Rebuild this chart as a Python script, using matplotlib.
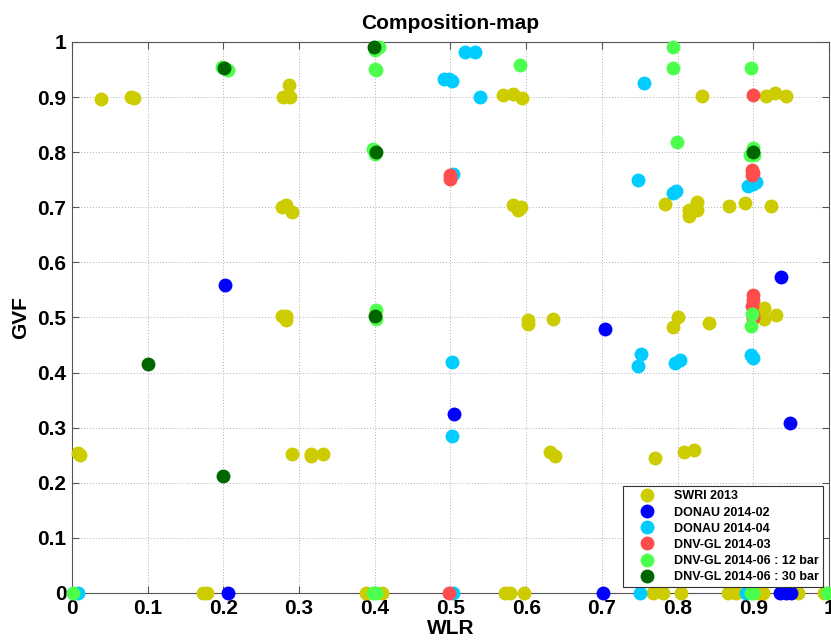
"""
Composition-map: GVF vs WLR test points from the different campaigns.
"""

import matplotlib
matplotlib.use('Agg')
import matplotlib.pyplot as plt

plt.rcParams['font.family'] = ['Liberation Sans', 'DejaVu Sans']
plt.rcParams['font.weight'] = 'bold'

# SWRI 2013
swri_wlr = [0.038, 0.078, 0.082, 0.279, 0.287, 0.288, 0.278, 0.283, 0.291,
            0.277, 0.283, 0.283, 0.008, 0.011, 0.290, 0.316, 0.316, 0.332,
            0.173, 0.178, 0.389, 0.409, 0.569, 0.582, 0.595, 0.583, 0.589,
            0.593, 0.603, 0.603, 0.636, 0.631, 0.638, 0.770, 0.809, 0.822,
            0.572, 0.578, 0.597, 0.832, 0.917, 0.929, 0.943, 0.783, 0.815,
            0.815, 0.826, 0.826, 0.868, 0.889, 0.924, 0.801, 0.794, 0.841,
            0.914, 0.914, 0.930, 0.767, 0.781, 0.805, 0.866, 0.877, 0.906,
            0.913, 0.959, 0.993]
swri_gvf = [0.897, 0.900, 0.899, 0.900, 0.922, 0.900, 0.701, 0.704, 0.692,
            0.502, 0.502, 0.496, 0.254, 0.251, 0.252, 0.252, 0.248, 0.253,
            0.0, 0.0, 0.0, 0.0, 0.903, 0.906, 0.898, 0.704, 0.695,
            0.700, 0.496, 0.489, 0.497, 0.255, 0.249, 0.245, 0.255, 0.260,
            0.0, 0.0, 0.0, 0.902, 0.902, 0.908, 0.902, 0.706, 0.695,
            0.685, 0.710, 0.695, 0.702, 0.708, 0.702, 0.500, 0.482, 0.490,
            0.517, 0.497, 0.504, 0.0, 0.0, 0.0, 0.0, 0.0, 0.0,
            0.0, 0.0, 0.0]

# DONAU 2014-02
donau02_wlr = [0.202, 0.206, 0.504, 0.704, 0.701, 0.936, 0.949, 0.935, 0.943, 0.950]
donau02_gvf = [0.559, 0.0, 0.325, 0.479, 0.0, 0.574, 0.308, 0.0, 0.0, 0.0]

# DONAU 2014-04
donau04_wlr = [0.519, 0.533, 0.492, 0.498, 0.502, 0.539, 0.755, 0.503, 0.748,
               0.794, 0.798, 0.893, 0.899, 0.904, 0.751, 0.748, 0.797, 0.803,
               0.897, 0.899, 0.502, 0.502, 0.008, 0.503, 0.750, 0.890]
donau04_gvf = [0.981, 0.981, 0.932, 0.932, 0.929, 0.901, 0.925, 0.760, 0.749,
               0.726, 0.730, 0.739, 0.742, 0.745, 0.434, 0.412, 0.417, 0.423,
               0.432, 0.426, 0.420, 0.285, 0.0, 0.0, 0.0, 0.0]

# DNV-GL 2014-03
dnv03_wlr = [0.499, 0.499, 0.899, 0.898, 0.898, 0.900, 0.899, 0.899, 0.898,
             0.900, 0.900, 0.498]
dnv03_gvf = [0.758, 0.752, 0.903, 0.768, 0.758, 0.762, 0.541, 0.532, 0.520,
             0.505, 0.499, 0.0]

# DNV-GL 2014-06 : 12 bar
dnv12_wlr = [0.198, 0.206, 0.405, 0.400, 0.400, 0.402, 0.398, 0.400, 0.401,
             0.401, 0.398, 0.401, 0.794, 0.794, 0.592, 0.897, 0.799, 0.895,
             0.901, 0.899, 0.898, 0.897, 0.897, 0.899, 0.998, 0.001]
dnv12_gvf = [0.955, 0.950, 0.990, 0.986, 0.951, 0.949, 0.805, 0.797, 0.514,
             0.497, 0.0, 0.0, 0.991, 0.953, 0.958, 0.953, 0.819, 0.795,
             0.795, 0.808, 0.506, 0.485, 0.0, 0.0, 0.0, 0.0]

# DNV-GL 2014-06 : 30 bar
dnv30_wlr = [0.2007, 0.399, 0.401, 0.400, 0.0999, 0.1997, 0.899]
dnv30_gvf = [0.952, 0.991, 0.801, 0.503, 0.415, 0.213, 0.801]

series = [
    (swri_wlr, swri_gvf, 'SWRI 2013', '#CCCC00'),
    (donau02_wlr, donau02_gvf, 'DONAU 2014-02', '#0000FF'),
    (donau04_wlr, donau04_gvf, 'DONAU 2014-04', '#00CCFF'),
    (dnv03_wlr, dnv03_gvf, 'DNV-GL 2014-03', '#FF4D4D'),
    (dnv12_wlr, dnv12_gvf, 'DNV-GL 2014-06 : 12 bar', '#4DFF4D'),
    (dnv30_wlr, dnv30_gvf, 'DNV-GL 2014-06 : 30 bar', '#006600'),
]

ticks = [0, 0.1, 0.2, 0.3, 0.4, 0.5, 0.6, 0.7, 0.8, 0.9, 1]
tick_labels = ['0', '0.1', '0.2', '0.3', '0.4', '0.5', '0.6', '0.7', '0.8', '0.9', '1']

fig = plt.figure(figsize=(8.31, 6.44), dpi=100)
ax = fig.add_axes([0.0866, 0.0792, 0.9110, 0.8556])

for wlr, gvf, label, color in series:
    ax.plot(wlr, gvf, 'o', color=color, markersize=10, markeredgewidth=0,
            label=label, clip_on=False, zorder=3)

ax.set_xlim(0, 1)
ax.set_ylim(0, 1)
ax.set_xticks(ticks)
ax.set_xticklabels(tick_labels)
ax.set_yticks(ticks)
ax.set_yticklabels(tick_labels)
ax.tick_params(direction='in', length=5, width=0.8, color='#555555',
               top=True, right=True, labelsize=15, pad=4)
for s in ax.spines.values():
    s.set_color('#555555')
    s.set_linewidth(0.8)
ax.grid(True, linestyle=(0, (1, 2)), color='#B0B0B0', linewidth=0.7)
ax.set_axisbelow(True)

ax.set_xlabel('WLR', fontsize=15, fontweight='bold', labelpad=1)
ax.set_ylabel('GVF', fontsize=15, fontweight='bold', labelpad=5)
ax.set_title('Composition-map', fontsize=15, fontweight='bold', pad=9)

leg = ax.legend(loc='lower right', bbox_to_anchor=(0.992, 0.010),
                borderaxespad=0, prop={'weight': 'bold', 'size': 9},
                fancybox=False, framealpha=1, edgecolor='#333333',
                handlelength=3.2, handletextpad=0.5,
                labelspacing=0.33, borderpad=0.35)
leg.get_frame().set_linewidth(0.8)

plt.savefig('out.png', dpi=100)
